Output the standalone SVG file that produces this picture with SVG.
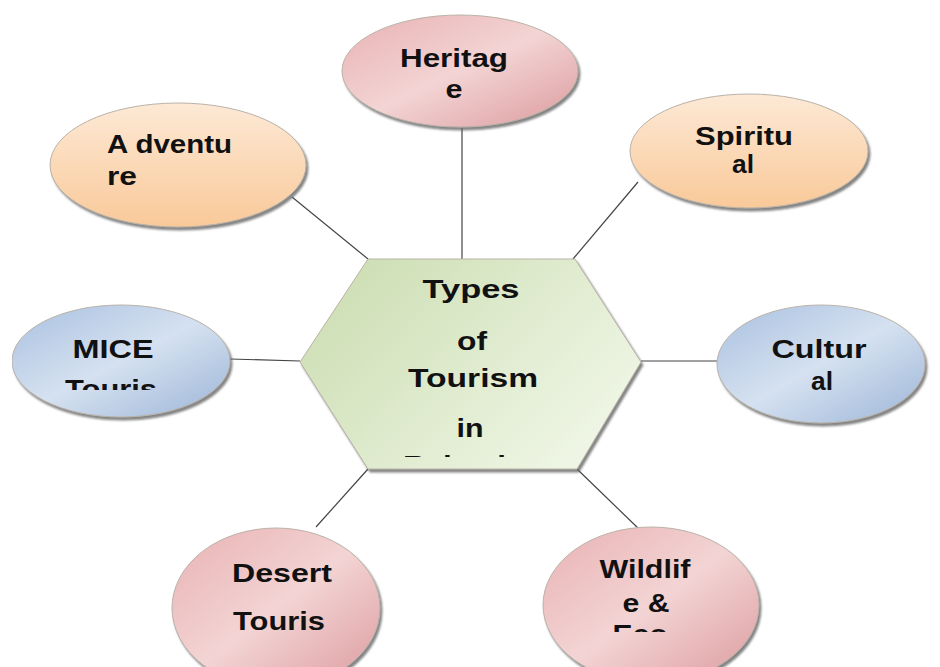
<svg xmlns="http://www.w3.org/2000/svg" width="940" height="667" viewBox="0 0 940 667">
<style>
.t{font-family:"Liberation Sans",Arial,sans-serif;font-weight:bold;font-size:25px;fill:#111}
.n{stroke:#b9b2a8;stroke-width:1;filter:url(#sh)}
.c{stroke:#444;stroke-width:1.2;fill:none}
</style>
<defs>
<filter id="sh" x="-10%" y="-10%" width="125%" height="125%">
<feDropShadow dx="2" dy="3" stdDeviation="1.2" flood-color="#666" flood-opacity="0.8"/>
</filter>
<linearGradient id="pink" x1="0" y1="0" x2="1" y2="1">
<stop offset="0" stop-color="#e9b1b3"/><stop offset="0.5" stop-color="#f3d4d4"/><stop offset="1" stop-color="#dc9a9e"/>
</linearGradient>
<linearGradient id="orange" x1="0" y1="0" x2="0" y2="1">
<stop offset="0" stop-color="#fde9d6"/><stop offset="1" stop-color="#f9c999"/>
</linearGradient>
<linearGradient id="blue" x1="0" y1="0" x2="1" y2="1">
<stop offset="0" stop-color="#a9c0e0"/><stop offset="0.5" stop-color="#d5e1f0"/><stop offset="1" stop-color="#9cb5d8"/>
</linearGradient>
<linearGradient id="green" x1="0" y1="0" x2="1" y2="0.6">
<stop offset="0" stop-color="#c9dcae"/><stop offset="1" stop-color="#eef5e4"/>
</linearGradient>
<clipPath id="cpMice"><rect x="0" y="300" width="300" height="90"/></clipPath>
<clipPath id="cpMiceShape"><rect x="12" y="0" width="400" height="667"/></clipPath>
<clipPath id="cpHex"><rect x="300" y="250" width="350" height="207"/></clipPath>
<clipPath id="cpWild"><rect x="530" y="520" width="240" height="112"/></clipPath>
</defs>

<g id="connectors">
<line class="c" x1="292" y1="197" x2="368" y2="259"/>
<line class="c" x1="462" y1="128" x2="462" y2="259"/>
<line class="c" x1="638" y1="182" x2="573" y2="259"/>
<line class="c" x1="230" y1="359" x2="300" y2="361"/>
<line class="c" x1="641" y1="361" x2="717" y2="361"/>
<line class="c" x1="316" y1="527" x2="368" y2="469"/>
<line class="c" x1="577" y1="469" x2="640" y2="530"/>
</g>

<g id="center">
<polygon class="n" points="368,259 575,259 641,362 577,469 368,469 300,362" fill="url(#green)"/>
<text class="t" x="471" y="298" text-anchor="middle" font-size="26" textLength="97" lengthAdjust="spacingAndGlyphs">Types</text>
<text class="t" x="472" y="350" text-anchor="middle" font-size="26" textLength="30" lengthAdjust="spacingAndGlyphs">of</text>
<text class="t" x="473" y="387" text-anchor="middle" font-size="26" textLength="130" lengthAdjust="spacingAndGlyphs">Tourism</text>
<text class="t" x="470" y="437" text-anchor="middle" font-size="26" textLength="27" lengthAdjust="spacingAndGlyphs">in</text>
<text class="t" x="478" y="474" text-anchor="middle" font-size="26" textLength="150" lengthAdjust="spacingAndGlyphs" clip-path="url(#cpHex)">Rajasthan</text>
</g>

<g id="heritage">
<ellipse class="n" cx="460" cy="71" rx="118" ry="56" fill="url(#pink)"/>
<text class="t" x="454" y="67" text-anchor="middle" font-size="26" textLength="108" lengthAdjust="spacingAndGlyphs">Heritag</text>
<text class="t" x="454" y="98" text-anchor="middle" font-size="26" textLength="17" lengthAdjust="spacingAndGlyphs">e</text>
</g>

<g id="adventure">
<ellipse class="n" cx="178" cy="165" rx="128" ry="62" fill="url(#orange)"/>
<text class="t" x="107" y="153" textLength="125" lengthAdjust="spacingAndGlyphs">A dventu</text>
<text class="t" x="107" y="185" textLength="30" lengthAdjust="spacingAndGlyphs">re</text>
</g>

<g id="spiritual">
<ellipse class="n" cx="749" cy="151" rx="119" ry="57" fill="url(#orange)"/>
<text class="t" x="744" y="145" text-anchor="middle" textLength="98" lengthAdjust="spacingAndGlyphs">Spiritu</text>
<text class="t" x="743" y="173" text-anchor="middle" textLength="22" lengthAdjust="spacingAndGlyphs">al</text>
</g>

<g id="mice">
<g clip-path="url(#cpMiceShape)">
<ellipse class="n" cx="121" cy="361" rx="109" ry="56" fill="url(#blue)"/>
</g>
<text class="t" x="113" y="358" text-anchor="middle" textLength="81" lengthAdjust="spacingAndGlyphs">MICE</text>
<text class="t" x="111" y="398" text-anchor="middle" textLength="92" lengthAdjust="spacingAndGlyphs" clip-path="url(#cpMice)">Touris</text>
</g>

<g id="cultural">
<ellipse class="n" cx="821" cy="364" rx="104" ry="59" fill="url(#blue)"/>
<text class="t" x="819" y="358" text-anchor="middle" textLength="95" lengthAdjust="spacingAndGlyphs">Cultur</text>
<text class="t" x="822" y="390" text-anchor="middle" textLength="22" lengthAdjust="spacingAndGlyphs">al</text>
</g>

<g id="desert">
<ellipse class="n" cx="276" cy="608" rx="104" ry="80" fill="url(#pink)"/>
<text class="t" x="282" y="582" text-anchor="middle" textLength="100" lengthAdjust="spacingAndGlyphs">Desert</text>
<text class="t" x="279" y="630" text-anchor="middle" textLength="92" lengthAdjust="spacingAndGlyphs">Touris</text>
</g>

<g id="wildlife">
<ellipse class="n" cx="651" cy="605" rx="108" ry="78" fill="url(#pink)"/>
<text class="t" x="645" y="578" text-anchor="middle" font-size="23" textLength="91" lengthAdjust="spacingAndGlyphs">Wildlif</text>
<text class="t" x="646" y="612" text-anchor="middle" font-size="23" textLength="47" lengthAdjust="spacingAndGlyphs">e &amp;</text>
<text class="t" x="640" y="643" text-anchor="middle" font-size="23" textLength="55" lengthAdjust="spacingAndGlyphs" clip-path="url(#cpWild)">Eco</text>
</g>
</svg>
